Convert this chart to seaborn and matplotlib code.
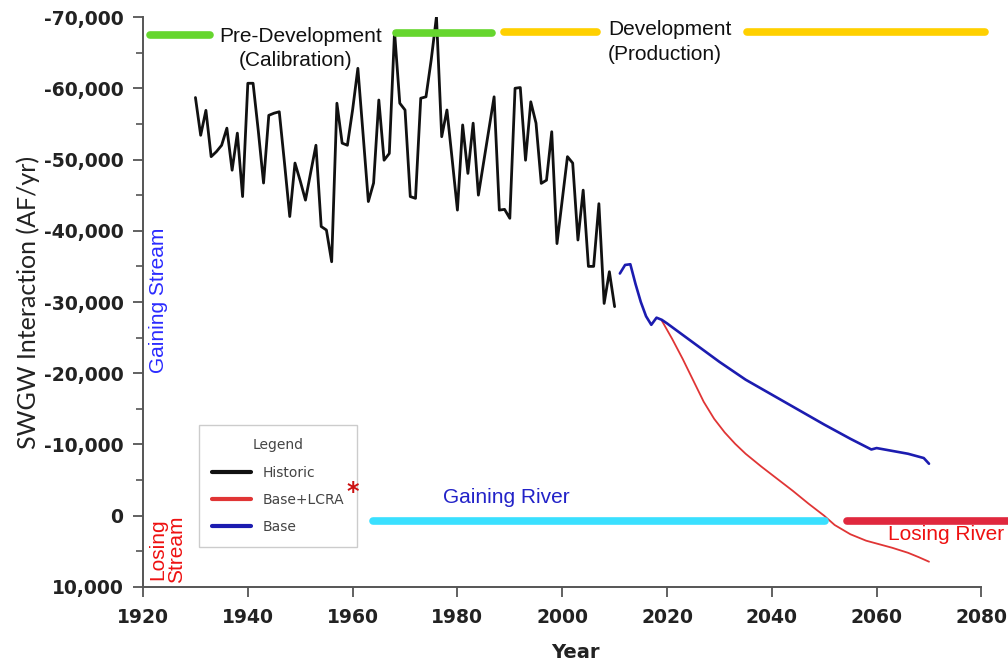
import numpy as np
import pandas as pd
import matplotlib
matplotlib.use('Agg')
import matplotlib.pyplot as plt
import seaborn as sns
from matplotlib.ticker import FuncFormatter, MultipleLocator

# --- datos ---
hist_years = list(range(1930, 2011))
hist_vals = [-58700, -53400, -56900, -50400, -51100, -52000, -54400, -48500, -53700, -44800,
             -60700, -60700, -54000, -46700, -56200, -56500, -56700, -49500, -42000, -49500,
             -47000, -44300, -48200, -52000, -40600, -40100, -35650, -57900, -52300, -52000,
             -57000, -62800, -53500, -44100, -46700, -58350, -49900, -50850, -67950, -57900,
             -56950, -44800, -44550, -58600, -58800, -64000, -70050, -53200, -56950, -50000,
             -42900, -54850, -48050, -55100, -45000, -49600, -54200, -58800, -42900, -43000,
             -41750, -60000, -60100, -49900, -58100, -55100, -46650, -47100, -53900, -38200,
             -44300, -50400, -49500, -38700, -45700, -35000, -35000, -43800, -29800, -34250,
             -29350]

lcra_years = [2019, 2021, 2023, 2025, 2027, 2029, 2031, 2033, 2035, 2038, 2041, 2044,
              2047, 2050, 2052, 2055, 2058, 2060, 2063, 2066, 2068, 2070]
lcra_vals = [-27400, -24800, -22000, -19000, -16000, -13600, -11700, -10100, -8700, -6900,
             -5200, -3500, -1700, 0, 1300, 2600, 3500, 3900, 4500, 5200, 5800, 6450]

base_years = [2011, 2012, 2013, 2014, 2015, 2016, 2017, 2018, 2019, 2020, 2025, 2030, 2035,
              2040, 2045, 2050, 2055, 2059, 2060, 2063, 2066, 2069, 2070]
base_vals = [-34000, -35200, -35300, -32500, -30000, -28000, -26800, -27800, -27500, -27000,
             -24300, -21600, -19100, -17000, -14900, -12800, -10800, -9300, -9500, -9100,
             -8700, -8100, -7300]

x_ticks = [1920, 1940, 1960, 1980, 2000, 2020, 2040, 2060, 2080]

hist_df = pd.DataFrame({'Year': hist_years, 'SWGW': hist_vals})
lcra_df = pd.DataFrame({'Year': lcra_years, 'SWGW': lcra_vals})
base_df = pd.DataFrame({'Year': base_years, 'SWGW': base_vals})

sns.set_theme(style='ticks')
plt.rcParams['font.family'] = ['DejaVu Sans']

fig = plt.figure(figsize=(10.08, 6.62), dpi=100)
ax = fig.add_axes([0.1419, 0.1133, 0.8577, 0.861])

sns.lineplot(data=hist_df, x='Year', y='SWGW', color='#111111', lw=2.0,
             label='Historic', ax=ax, estimator=None, sort=False)
sns.lineplot(data=lcra_df, x='Year', y='SWGW', color='#e03535', lw=1.3,
             label='Base+LCRA', ax=ax, estimator=None, sort=False)
sns.lineplot(data=base_df, x='Year', y='SWGW', color='#1c1cb0', lw=1.9,
             label='Base', ax=ax, estimator=None, sort=False)

ax.set_xlim(1920, 2085)
ax.set_ylim(10000, -70000)

# barras de periodos
def barra(x0, x1, y, color):
    ax.plot([x0, x1], [y, y], color=color, lw=5.5, solid_capstyle='round', clip_on=False)

barra(1921.3, 1932.8, -67500, '#66d62e')
barra(1968.2, 1986.6, -67750, '#66d62e')
barra(1988.8, 2006.6, -67900, '#ffd000')
barra(2035.2, 2080.7, -67900, '#ffd000')
barra(1963.8, 2050.1, 700, '#3ae0ff')
barra(2054.4, 2090, 700, '#e0283e')

ann = dict(family='Liberation Sans', fontsize=15)
ax.text(1950.0, -67300, 'Pre-Development', ha='center', va='center', color='#111111', **ann)
ax.text(1949.2, -63900, '(Calibration)', ha='center', va='center', color='#111111', **ann)
ax.text(2008.7, -68200, 'Development', ha='left', va='center', color='#111111', **ann)
ax.text(2008.7, -64700, '(Production)', ha='left', va='center', color='#111111', **ann)
ax.text(1989.3, -2500, 'Gaining River', ha='center', va='center', color='#2222c8', **ann)
ax.text(2062.2, 2600, 'Losing River', ha='left', va='center', color='#ee1111', **ann)
ax.text(1922.9, -30300, 'Gaining Stream', ha='center', va='center', rotation=90,
        color='#2a2aff', **ann)
ax.text(1924.6, 4700, 'Losing\nStream', ha='center', va='center', rotation=90,
        color='#ee1111', linespacing=1.0, **ann)
ax.text(1960.1, -3300, '*', ha='center', va='center', color='#cc1111',
        fontsize=17, fontweight='bold', zorder=10)

# ejes
ax.yaxis.set_major_locator(MultipleLocator(10000))
ax.yaxis.set_minor_locator(MultipleLocator(5000))
ax.yaxis.set_major_formatter(FuncFormatter(lambda v, p: f'{v:,.0f}'.replace('\u2212', '-')))
ax.set_xticks(x_ticks)
ax.tick_params(axis='both', which='major', length=7, width=1.3, color='#555555',
               labelsize=13.5, labelcolor='#222222')
ax.tick_params(axis='y', which='major', pad=7)
ax.tick_params(axis='x', which='major', pad=8)
ax.tick_params(axis='y', which='minor', length=5, width=1.2, color='#555555')
for lab in ax.get_xticklabels() + ax.get_yticklabels():
    lab.set_fontweight('bold')

for s in ['top', 'right']:
    ax.spines[s].set_visible(False)
for s in ['left', 'bottom']:
    ax.spines[s].set_color('#555555')
    ax.spines[s].set_linewidth(1.4)
ax.spines['bottom'].set_bounds(1920, 2080)

ax.set_xlabel('Year', fontsize=14, fontweight='bold', color='#222222', labelpad=12)
ax.set_ylabel('SWGW Interaction (AF/yr)', fontsize=18, family='Lato', color='#222222',
              labelpad=3)

leg = ax.legend(title='Legend', loc='upper left', bbox_to_anchor=(0.065, 0.284),
                frameon=True, fancybox=False, edgecolor='#c0c0c0', fontsize=10,
                title_fontsize=10, handlelength=2.8, labelspacing=0.95,
                borderpad=0.95, handletextpad=0.8, borderaxespad=0)
leg.get_frame().set_linewidth(1.0)
for t in leg.get_texts():
    t.set_color('#444444')
leg.get_title().set_color('#444444')
for h in leg.get_lines():
    h.set_linewidth(3)

plt.savefig('out.png', dpi=100)
